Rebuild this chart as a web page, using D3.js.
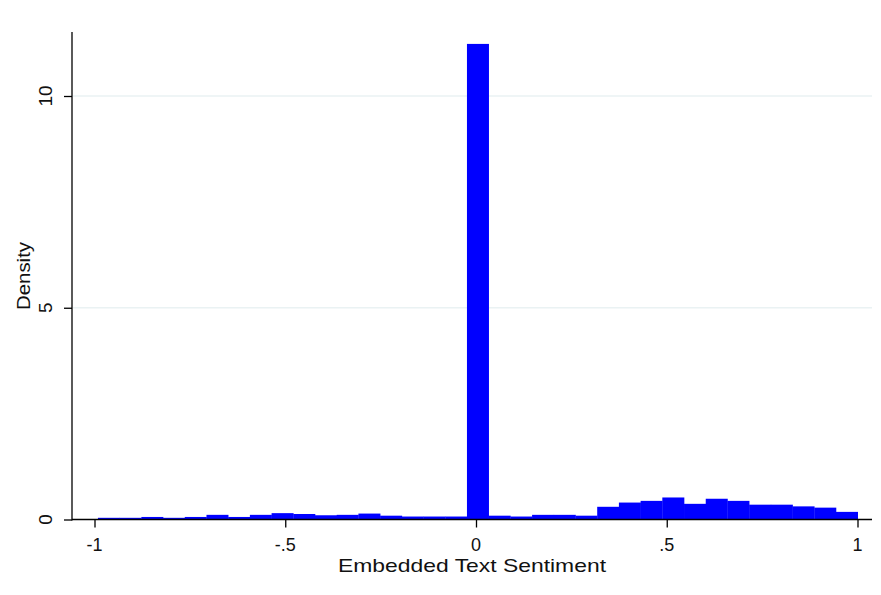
<!DOCTYPE html>
<html>
<head>
<meta charset="utf-8">
<script src="https://cdn.jsdelivr.net/npm/d3@7"></script>
<style>
  html, body { margin: 0; padding: 0; background: #fff; }
  text { font-family: "Liberation Sans", Arial, sans-serif; fill: #111; }
</style>
</head>
<body>
<svg id="chart" width="881" height="595"></svg>
<script>
// Histogram: 35 bins from -0.991 to 1.0
const binStart = -0.991;
const binWidth = 0.0569;
const densities = [
  0.04, 0.04, 0.06, 0.04, 0.06, 0.11, 0.06, 0.11, 0.15, 0.13,
  0.10, 0.11, 0.14, 0.09, 0.07, 0.07, 0.07, 11.23, 0.09, 0.07,
  0.11, 0.11, 0.09, 0.30, 0.40, 0.44, 0.52, 0.37, 0.49, 0.44,
  0.35, 0.35, 0.31, 0.28, 0.18
];
const xTicks = [-1, -0.5, 0, 0.5, 1];
const xTickLabels = ["-1", "-.5", "0", ".5", "1"];
const yTicks = [0, 5, 10];
const yTickLabels = ["0", "5", "10"];
const xTitle = "Embedded Text Sentiment";
const yTitle = "Density";

const bins = densities.map((d, i) => ({
  x0: binStart + i * binWidth,
  x1: binStart + (i + 1) * binWidth,
  v: d
}));

const svg = d3.select("#chart");
const x = d3.scaleLinear().domain([-1, 1]).range([94.5, 857.5]);
const y = d3.scaleLinear().domain([0, 10]).range([519.5, 96]);
const xLeft = 72, xRight = 872, yTop = 32;

// gridlines
svg.append("g").selectAll("line").data(yTicks.filter(t => t > 0)).join("line")
  .attr("x1", xLeft + 1).attr("x2", xRight)
  .attr("y1", d => y(d)).attr("y2", d => y(d))
  .attr("stroke", "#eaf2f3").attr("stroke-width", 1.5);

// bars
svg.append("g").selectAll("rect").data(bins).join("rect")
  .attr("x", d => x(d.x0))
  .attr("width", d => x(d.x1) - x(d.x0) + 0.3)
  .attr("y", d => y(d.v))
  .attr("height", d => y(0) - y(d.v))
  .attr("fill", "#0000ff");

// y axis
const yAxis = svg.append("g").attr("transform", `translate(${xLeft},0)`)
  .call(d3.axisLeft(y).tickValues(yTicks).tickFormat((d, i) => yTickLabels[i]).tickSize(8).tickPadding(0).tickSizeOuter(0));
yAxis.select(".domain").remove();
yAxis.selectAll("line").attr("stroke", "#000").attr("stroke-width", 1.3);
yAxis.selectAll("text").remove();
svg.append("line").attr("x1", xLeft).attr("x2", xLeft).attr("y1", yTop).attr("y2", 520.5)
  .attr("stroke", "#000").attr("stroke-width", 1.3);
svg.append("g").selectAll("text").data(yTicks).join("text")
  .attr("transform", d => `translate(52,${y(d)}) rotate(-90)`)
  .attr("text-anchor", "middle")
  .attr("font-size", 19)
  .text((d, i) => yTickLabels[i]);

// x axis
const xAxis = svg.append("g").attr("transform", `translate(0,519.5)`)
  .call(d3.axisBottom(x).tickValues(xTicks).tickFormat((d, i) => xTickLabels[i]).tickSize(8).tickSizeOuter(0));
xAxis.select(".domain").remove();
xAxis.selectAll("line").attr("stroke", "#000").attr("stroke-width", 1.3);
xAxis.selectAll("text").remove();
svg.append("line").attr("x1", xLeft).attr("x2", xRight).attr("y1", 519.5).attr("y2", 519.5)
  .attr("stroke", "#000").attr("stroke-width", 1.3);
svg.append("g").selectAll("text").data(xTicks).join("text")
  .attr("x", d => x(d)).attr("y", 551)
  .attr("text-anchor", "middle")
  .attr("font-size", 18)
  .text((d, i) => xTickLabels[i]);

// titles
svg.append("text").attr("x", 472).attr("y", 572).attr("text-anchor", "middle")
  .attr("font-size", 19).attr("textLength", 268).attr("lengthAdjust", "spacingAndGlyphs")
  .text(xTitle);
svg.append("text").attr("transform", "translate(30,276) rotate(-90)")
  .attr("text-anchor", "middle").attr("font-size", 19)
  .attr("textLength", 68).attr("lengthAdjust", "spacingAndGlyphs")
  .text(yTitle);
</script>
</body>
</html>
